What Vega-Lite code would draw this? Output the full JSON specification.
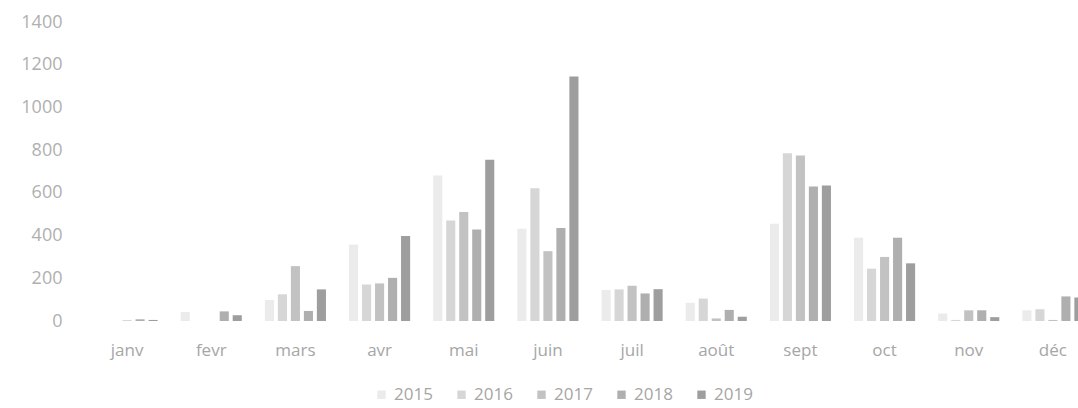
{
  "$schema": "https://vega.github.io/schema/vega-lite/v6.json",
  "autosize": "none",
  "width": 993,
  "height": 299,
  "padding": {"left": 85, "top": 22, "right": 0, "bottom": 87},
  "background": "white",
  "config": {"view": {"stroke": null}},
  "data": {"values": [
    {"mois": "janv", "annee": "2015", "valeur": 0},
    {"mois": "janv", "annee": "2016", "valeur": 0},
    {"mois": "janv", "annee": "2017", "valeur": 3},
    {"mois": "janv", "annee": "2018", "valeur": 8},
    {"mois": "janv", "annee": "2019", "valeur": 5},
    {"mois": "fevr", "annee": "2015", "valeur": 42},
    {"mois": "fevr", "annee": "2016", "valeur": 0},
    {"mois": "fevr", "annee": "2017", "valeur": 0},
    {"mois": "fevr", "annee": "2018", "valeur": 45},
    {"mois": "fevr", "annee": "2019", "valeur": 27},
    {"mois": "mars", "annee": "2015", "valeur": 98},
    {"mois": "mars", "annee": "2016", "valeur": 125},
    {"mois": "mars", "annee": "2017", "valeur": 257},
    {"mois": "mars", "annee": "2018", "valeur": 47},
    {"mois": "mars", "annee": "2019", "valeur": 148},
    {"mois": "avr", "annee": "2015", "valeur": 358},
    {"mois": "avr", "annee": "2016", "valeur": 171},
    {"mois": "avr", "annee": "2017", "valeur": 176},
    {"mois": "avr", "annee": "2018", "valeur": 202},
    {"mois": "avr", "annee": "2019", "valeur": 398},
    {"mois": "mai", "annee": "2015", "valeur": 681},
    {"mois": "mai", "annee": "2016", "valeur": 471},
    {"mois": "mai", "annee": "2017", "valeur": 510},
    {"mois": "mai", "annee": "2018", "valeur": 428},
    {"mois": "mai", "annee": "2019", "valeur": 755},
    {"mois": "juin", "annee": "2015", "valeur": 432},
    {"mois": "juin", "annee": "2016", "valeur": 622},
    {"mois": "juin", "annee": "2017", "valeur": 327},
    {"mois": "juin", "annee": "2018", "valeur": 435},
    {"mois": "juin", "annee": "2019", "valeur": 1145},
    {"mois": "juil", "annee": "2015", "valeur": 145},
    {"mois": "juil", "annee": "2016", "valeur": 148},
    {"mois": "juil", "annee": "2017", "valeur": 165},
    {"mois": "juil", "annee": "2018", "valeur": 129},
    {"mois": "juil", "annee": "2019", "valeur": 149},
    {"mois": "août", "annee": "2015", "valeur": 85},
    {"mois": "août", "annee": "2016", "valeur": 105},
    {"mois": "août", "annee": "2017", "valeur": 12},
    {"mois": "août", "annee": "2018", "valeur": 52},
    {"mois": "août", "annee": "2019", "valeur": 20},
    {"mois": "sept", "annee": "2015", "valeur": 455},
    {"mois": "sept", "annee": "2016", "valeur": 785},
    {"mois": "sept", "annee": "2017", "valeur": 775},
    {"mois": "sept", "annee": "2018", "valeur": 630},
    {"mois": "sept", "annee": "2019", "valeur": 635},
    {"mois": "oct", "annee": "2015", "valeur": 390},
    {"mois": "oct", "annee": "2016", "valeur": 245},
    {"mois": "oct", "annee": "2017", "valeur": 300},
    {"mois": "oct", "annee": "2018", "valeur": 390},
    {"mois": "oct", "annee": "2019", "valeur": 270},
    {"mois": "nov", "annee": "2015", "valeur": 35},
    {"mois": "nov", "annee": "2016", "valeur": 5},
    {"mois": "nov", "annee": "2017", "valeur": 50},
    {"mois": "nov", "annee": "2018", "valeur": 50},
    {"mois": "nov", "annee": "2019", "valeur": 18},
    {"mois": "déc", "annee": "2015", "valeur": 50},
    {"mois": "déc", "annee": "2016", "valeur": 55},
    {"mois": "déc", "annee": "2017", "valeur": 5},
    {"mois": "déc", "annee": "2018", "valeur": 115},
    {"mois": "déc", "annee": "2019", "valeur": 110}
  ]},
  "mark": {"type": "bar", "clip": true},
  "encoding": {
    "x": {
      "field": "mois", "type": "nominal",
      "sort": ["janv", "fevr", "mars", "avr", "mai", "juin", "juil", "août", "sept", "oct", "nov", "déc"],
      "scale": {"range": [0, 1010], "paddingInner": 0.274, "paddingOuter": 0.137},
      "axis": {"title": null, "labelAngle": 0, "domain": false, "ticks": false, "labelPadding": 21,
               "labelFontSize": 17, "labelColor": "#a6a6a6", "labelFont": "Open Sans"}
    },
    "xOffset": {"field": "annee", "type": "nominal", "scale": {"paddingInner": 0.3, "paddingOuter": 0}},
    "y": {
      "field": "valeur", "type": "quantitative",
      "scale": {"domain": [0, 1400]},
      "axis": {"title": null, "values": [0, 200, 400, 600, 800, 1000, 1200, 1400], "format": "d", "grid": false,
               "domain": false, "ticks": false, "labelPadding": 23, "labelFontSize": 18,
               "labelColor": "#b0b0b0", "labelFont": "Open Sans"}
    },
    "color": {
      "field": "annee", "type": "nominal",
      "scale": {"range": ["#ebebeb", "#d6d6d6", "#c2c2c2", "#afafaf", "#9e9e9e"]},
      "legend": {"title": null, "orient": "none", "legendX": 288, "legendY": 364, "direction": "horizontal",
                 "symbolType": "square", "symbolSize": 70, "labelFontSize": 17, "labelColor": "#a6a6a6",
                 "labelFont": "Open Sans", "labelOffset": 4, "columnPadding": 20}
    }
  }
}
